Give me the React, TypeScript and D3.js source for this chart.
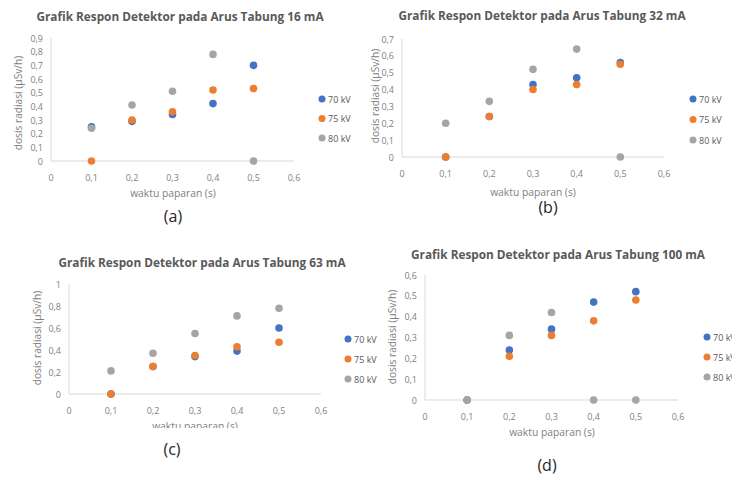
import React from "react";
import * as d3 from "d3";

// ---- data ----
const exposureTimes = [0.1, 0.2, 0.3, 0.4, 0.5];
const seriesNames = ["70 kV", "75 kV", "80 kV"];
const seriesColors = ["#4472C4", "#ED7D31", "#A5A5A5"];

const titles = [
  "Grafik Respon Detektor pada Arus Tabung 16 mA",
  "Grafik Respon Detektor pada Arus Tabung 32 mA",
  "Grafik Respon Detektor pada Arus Tabung 63 mA",
  "Grafik Respon Detektor pada Arus Tabung 100 mA",
];
const captions = ["(a)", "(b)", "(c)", "(d)"];

// 16 mA
const dose16_70 = [0.25, 0.29, 0.34, 0.42, 0.7];
const dose16_75 = [0, 0.3, 0.36, 0.52, 0.53];
const dose16_80 = [0.24, 0.41, 0.51, 0.78, 0];
// 32 mA
const dose32_70 = [0, 0.24, 0.43, 0.47, 0.56];
const dose32_75 = [0, 0.24, 0.4, 0.43, 0.55];
const dose32_80 = [0.2, 0.33, 0.52, 0.64, 0];
// 63 mA
const dose63_70 = [0, 0.25, 0.34, 0.39, 0.6];
const dose63_75 = [0, 0.25, 0.35, 0.43, 0.47];
const dose63_80 = [0.21, 0.37, 0.55, 0.71, 0.78];
// 100 mA
const dose100_70 = [0, 0.24, 0.34, 0.47, 0.52];
const dose100_75 = [0, 0.21, 0.31, 0.38, 0.48];
const dose100_80 = [0, 0.31, 0.42, 0, 0];

const xTicks = [0, 0.1, 0.2, 0.3, 0.4, 0.5, 0.6];
const yTicks16 = [0, 0.1, 0.2, 0.3, 0.4, 0.5, 0.6, 0.7, 0.8, 0.9];
const yTicks32 = [0, 0.1, 0.2, 0.3, 0.4, 0.5, 0.6, 0.7];
const yTicks63 = [0, 0.2, 0.4, 0.6, 0.8, 1];
const yTicks100 = [0, 0.1, 0.2, 0.3, 0.4, 0.5, 0.6];

const xLabel = "waktu paparan (s)";
const yLabel = "dosis radiasi (µSv/h)";

const panelSeries = [
  [dose16_70, dose16_75, dose16_80],
  [dose32_70, dose32_75, dose32_80],
  [dose63_70, dose63_75, dose63_80],
  [dose100_70, dose100_75, dose100_80],
];
const panelYTicks = [yTicks16, yTicks32, yTicks63, yTicks100];

// ---- layout ----
const layouts = [
  { x0: 51, x1: 294, y0: 161, y1: 38, title: [180, 16], yl: [18, 103], xl: [173, 193], cap: [173, 216], lg: [322, 99, 19.5], clipY: null },
  { x0: 402, x1: 664, y0: 157, y1: 39, title: [542, 15], yl: [375, 96], xl: [533, 192], cap: [548, 207], lg: [693, 99, 20.5], clipY: null },
  { x0: 69, x1: 321, y0: 394, y1: 284, title: [202, 262], yl: [37, 338], xl: [195, 426], cap: [172, 449], lg: [348, 339, 20], clipY: 428 },
  { x0: 425, x1: 678, y0: 400, y1: 275, title: [558, 254], yl: [392, 337], xl: [552, 432], cap: [547, 465], lg: [707, 337, 20], clipY: null },
];

const FONT = "'Open Sans', 'Liberation Sans', sans-serif";
const fmt = (v: number) => (v === 0 ? "0" : d3.format(".1~f")(v).replace(".", ","));

function Panel({ i }: { i: number }) {
  const L = layouts[i];
  const yT = panelYTicks[i];
  const x = d3.scaleLinear().domain([0, 0.6]).range([L.x0, L.x1]);
  const y = d3.scaleLinear().domain([0, yT[yT.length - 1]]).range([L.y0, L.y1]);
  const clipId = `clip-${i}`;
  return (
    <g>
      <text x={L.title[0]} y={L.title[1]} textAnchor="middle" dominantBaseline="central"
        fontFamily={FONT} fontWeight="bold" fontSize={11.8} fill="#595959">{titles[i]}</text>
      <line x1={x(0)} x2={x(0)} y1={y(0)} y2={y(yT[yT.length - 1])} stroke="#D9D9D9" strokeWidth={1} />
      <line x1={x(0)} x2={x(0.6)} y1={y(0)} y2={y(0)} stroke="#D9D9D9" strokeWidth={1} />
      {yT.map((t) => (
        <text key={"y" + t} x={x(0) - 8} y={y(t)} textAnchor="end" dominantBaseline="central"
          fontFamily={FONT} fontSize={9} fill="#808080">{fmt(t)}</text>
      ))}
      {xTicks.map((t) => (
        <text key={"x" + t} x={x(t)} y={y(0) + 16} textAnchor="middle" dominantBaseline="central"
          fontFamily={FONT} fontSize={9} fill="#808080">{fmt(t)}</text>
      ))}
      {L.clipY !== null && (
        <clipPath id={clipId}><rect x={0} y={0} width={732} height={L.clipY} /></clipPath>
      )}
      <text x={L.xl[0]} y={L.xl[1]} textAnchor="middle" dominantBaseline="central"
        fontFamily={FONT} fontSize={10.3} fill="#808080"
        clipPath={L.clipY !== null ? `url(#${clipId})` : undefined}>{xLabel}</text>
      <text transform={`translate(${L.yl[0]},${L.yl[1]}) rotate(-90)`} textAnchor="middle" dominantBaseline="central"
        fontFamily={FONT} fontSize={10.2} fill="#808080">{yLabel}</text>
      {panelSeries[i].map((vals, s) => (
        <g key={"s" + s}>
          {vals.map((v, k) => (
            <circle key={k} cx={x(exposureTimes[k])} cy={y(v)} r={3.8} fill={seriesColors[s]} />
          ))}
        </g>
      ))}
      {seriesNames.map((n, s) => (
        <g key={"l" + s}>
          <circle cx={L.lg[0]} cy={L.lg[1] + s * L.lg[2]} r={3.5} fill={seriesColors[s]} />
          <text x={L.lg[0] + 6} y={L.lg[1] + s * L.lg[2]} dominantBaseline="central"
            fontFamily={FONT} fontSize={9} fill="#595959">{n}</text>
        </g>
      ))}
      <text x={L.cap[0]} y={L.cap[1]} textAnchor="middle" dominantBaseline="central"
        fontFamily={FONT} fontSize={16} fill="#262626">{captions[i]}</text>
    </g>
  );
}

export default function App() {
  return (
    <svg width={732} height={477} style={{ position: "absolute", left: 0, top: 0, background: "#fff" }}>
      <rect width={732} height={477} fill="#fff" />
      {[0, 1, 2, 3].map((i) => <Panel key={i} i={i} />)}
    </svg>
  );
}
